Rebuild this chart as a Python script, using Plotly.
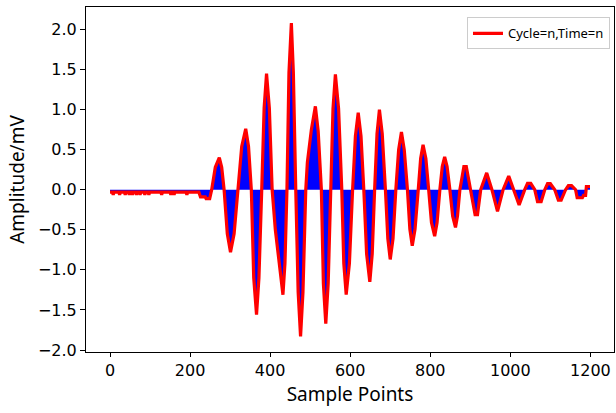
import plotly.graph_objects as go

# Key points (sample index, amplitude in mV)
sample_idx = [
    0, 6, 8, 10, 22, 24, 26, 36, 38, 40, 46, 48, 50, 54, 56, 58, 64, 66, 68,
    73, 75, 77, 85, 87, 89, 95, 97, 99, 127, 129, 131, 150, 152, 154, 158, 160,
    162, 190, 192, 194, 222, 226, 238, 240, 249,
    254, 263, 273, 279, 285, 293, 301, 310, 319, 329, 339, 346, 353, 359, 366,
    372, 379, 385, 391, 398, 405, 413, 432, 437, 442, 447, 453, 458, 464, 470,
    476, 482, 489, 493, 503, 513, 520, 528, 533, 539, 545, 552, 557, 563, 571,
    579, 584, 590, 598, 606, 613, 620, 627, 634, 641, 649, 655, 661, 667, 673,
    680, 688, 694, 700, 707, 714, 721, 728, 735, 743, 749, 755, 762, 770, 776,
    782, 789, 796, 803, 811, 817, 824, 830, 836, 842, 849, 856, 863, 868, 874,
    884, 890, 901, 912, 918, 926, 941, 954, 968, 982, 996, 1008,
    1022, 1036, 1043, 1051, 1061, 1068, 1077, 1086, 1093, 1100, 1111, 1120,
    1127, 1138, 1145, 1153, 1163, 1167, 1180, 1183, 1188, 1190, 1199,
]
amplitude = [
    -0.03, -0.03, -0.065, -0.03, -0.03, -0.065, -0.03, -0.03, -0.065, -0.03,
    -0.03, -0.065, -0.03, -0.03, -0.065, -0.03, -0.03, -0.065, -0.03,
    -0.03, -0.065, -0.03, -0.03, -0.065, -0.03, -0.03, -0.065, -0.03,
    -0.03, -0.065, -0.03, -0.03, -0.065, -0.03, -0.03, -0.065,
    -0.03, -0.03, -0.065, -0.03, -0.03, -0.09, -0.09, -0.11, -0.11,
    0.0, 0.28, 0.40, 0.28, 0.0, -0.55, -0.78, -0.55, 0.0, 0.54, 0.76, 0.54,
    0.0, -1.10, -1.56,
    -1.10, 0.0, 1.02, 1.45, 1.02, 0.0, -0.50, -1.31, -0.92, 0.0, 1.46, 2.08,
    1.46, 0.0, -1.28,
    -1.83, -1.28, 0.0, 0.34, 0.75, 1.04, 0.73, 0.0, -1.17, -1.67, -1.17, 0.0,
    1.01, 1.44, 1.01,
    0.0, -0.92, -1.31, -0.92, 0.0, 0.67, 0.96, 0.67, 0.0, -0.80, -1.15, -0.80,
    0.0, 0.70, 1.00,
    0.70, 0.0, -0.61, -0.87, -0.61, 0.0, 0.50, 0.72, 0.50, 0.0, -0.49, -0.70,
    -0.49, 0.0, 0.39,
    0.56, 0.39, 0.0, -0.41, -0.58, -0.41, 0.0, 0.29, 0.41, 0.29, 0.0, -0.33,
    -0.47, -0.33, 0.0,
    0.29, 0.29, 0.0, -0.31, -0.31, 0.0, 0.21, 0.0, -0.27, 0.0, 0.17, 0.0,
    -0.19, 0.0, 0.08, 0.08, 0.0, -0.15, -0.15, 0.0, 0.075, 0.075, 0.0, -0.13,
    -0.13, 0.0, 0.05, 0.05, 0.0, -0.10, -0.10, -0.07, -0.07, 0.04, 0.04,
]

x_ticks = [0, 200, 400, 600, 800, 1000, 1200]
y_ticks = [-2.0, -1.5, -1.0, -0.5, 0.0, 0.5, 1.0, 1.5, 2.0]
y_tick_text = [f"{v:.1f}".replace("-", "\u2212") for v in y_ticks]

legend_name = "Cycle=n,Time=n"

fig = go.Figure()
fig.add_trace(go.Scatter(
    x=sample_idx, y=amplitude, mode="lines", fill="tozeroy",
    fillcolor="#0000ff", line=dict(width=0, color="#0000ff"),
    showlegend=False, hoverinfo="skip",
))
fig.add_trace(go.Scatter(
    x=sample_idx, y=amplitude, mode="lines", name=legend_name,
    line=dict(color="#ff0000", width=3.2),
))

tick_font = dict(family="DejaVu Sans", size=16, color="#000000")
title_font = dict(family="Noto Sans", size=19, color="#000000")

fig.update_layout(
    width=616, height=413,
    margin=dict(l=86, r=2, t=7, b=61),
    paper_bgcolor="white", plot_bgcolor="white",
    showlegend=True,
    legend=dict(
        x=0.9924, y=0.97, xanchor="right", yanchor="top",
        bgcolor="rgba(255,255,255,0.8)", bordercolor="#cccccc", borderwidth=1,
        font=dict(family="Noto Sans", size=13, color="#000000"),
        itemwidth=30,
    ),
)
fig.update_xaxes(
    range=[-60, 1259], tickvals=x_ticks, ticktext=[str(v) for v in x_ticks],
    showgrid=False, zeroline=False, showline=True, linecolor="#000000",
    linewidth=1, mirror=True, ticks="outside", ticklen=4, tickcolor="#000000",
    tickfont=tick_font,
    title=dict(text="Sample Points", font=title_font, standoff=8),
)
fig.update_yaxes(
    range=[-2.025, 2.28], tickvals=y_ticks, ticktext=y_tick_text,
    showgrid=False, zeroline=False, showline=True, linecolor="#000000",
    linewidth=1, mirror=True, ticks="outside", ticklen=5, tickcolor="#000000",
    tickfont=tick_font,
    title=dict(text="Amplitude/mV", font=title_font, standoff=8),
)

fig.write_html("out.html")
